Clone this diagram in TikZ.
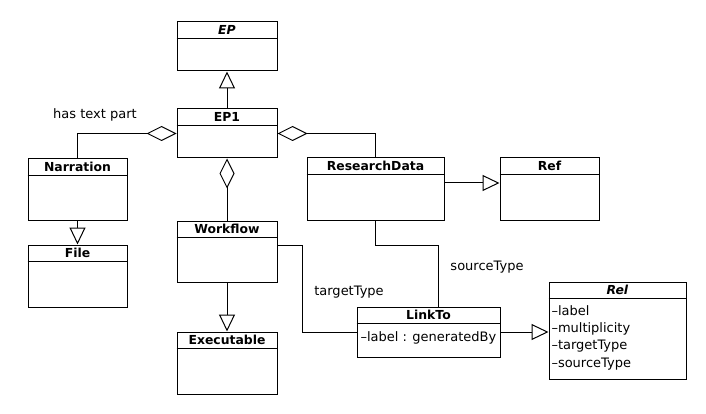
\documentclass[tikz,border=0pt]{standalone}
\usepackage{fontspec}
\setmainfont{DejaVu Sans}
\usetikzlibrary{arrows.meta}
% class box: name, centre, width, height, title
\newcommand{\umlclass}[5]{%
  \node[cls, minimum width=#3pt, minimum height=#4pt] (#1) at #2 {};
  \node[ttl] (#1t) at ([yshift=-8.5pt]#1.north) {#5};
  \draw ([yshift=-17pt]#1.north west) -- ([yshift=-17pt]#1.north east);
}
\begin{document}
\begin{tikzpicture}[x=1pt, y=-1pt, line width=1pt,
    cls/.style={draw, rectangle, inner sep=0pt},
    ttl/.style={inner sep=0pt, font=\fontsize{12.4}{14}\selectfont\bfseries},
    lbl/.style={inner sep=0pt, font=\fontsize{13}{15}\selectfont},
    gen/.style={-{Triangle[open, length=17pt, width=16pt]}},
    agg/.style={-{Diamond[open, length=30pt, width=15pt]}}]
		\useasboundingbox (0,0) rectangle (706,414);
		
		\umlclass{ep}{(227,46.5)}{100}{49}{\textit{EP}}
		\umlclass{ep1}{(227,133.5)}{100}{49}{EP1}
		\umlclass{narr}{(77.5,189.5)}{99}{61}{Narration}
		\umlclass{file}{(77.5,276)}{99}{62}{File}
		\umlclass{rd}{(375.5,189)}{137}{62}{ResearchData}
		\umlclass{ref}{(549.5,189)}{99}{62}{Ref}
		\umlclass{wf}{(227,251.5)}{100}{61}{Workflow}
		\umlclass{exe}{(227,363)}{100}{62}{Executable}
		\umlclass{link}{(428.5,332)}{143}{50}{LinkTo}
		\umlclass{rel}{(617.5,330.5)}{137}{97}{\textit{Rel}}
		
		\node[lbl, anchor=west] (linkattr) at (360,338) {\textendash label : generatedBy};
		\node[lbl, anchor=north west, align=left, font=\fontsize{13}{17.3}\selectfont] (relattr) at (551,305)
			{\textendash label\\ \textendash multiplicity\\ \textendash targetType\\ \textendash sourceType};
		
		\draw [gen] (ep1.north) -- (ep.south);
		\draw [gen] (narr.south) -- (file.north);
		\draw [gen] (wf.south) -- (exe.north);
		\draw [gen] ([yshift=6pt]rd.east) -- ([yshift=6pt]ref.west);
		\draw [gen] (link.east) -- (link.east -| rel.west);
		
		\draw [agg] (narr.north) |- (ep1.west);
		\draw [agg] (rd.north) |- (ep1.east);
		\draw [agg] (wf.north) -- (ep1.south);
		
		\draw (rd.south) -- ++(0,25) -| ([xshift=9.5pt]link.north);
		\draw ([yshift=6.5pt]wf.east) -- ++(25,0) |- (link.west);
		
		\node[lbl] (has) at (95,115) {has text part};
		\node[lbl] (src) at (487,267) {sourceType};
		\node[lbl] (tgt) at (349,292) {targetType};
\end{tikzpicture}
\end{document}
